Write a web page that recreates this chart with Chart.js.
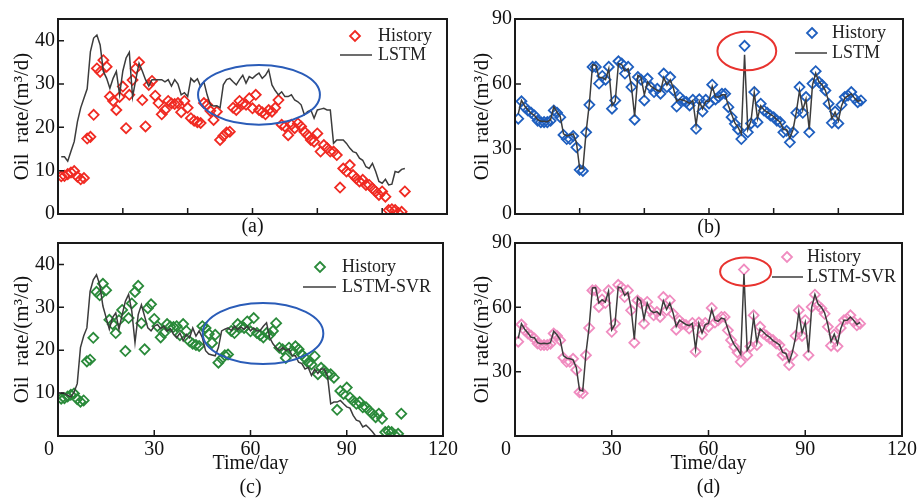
<!DOCTYPE html>
<html>
<head>
<meta charset="utf-8">
<script src="https://cdn.jsdelivr.net/npm/chart.js@4.4.1/dist/chart.umd.min.js"></script>
<style>
html, body { margin: 0; padding: 0; background: #fff; }
body { width: 919px; height: 499px; position: relative; overflow: hidden; }
canvas { position: absolute; }
</style>
</head>
<body>
<canvas id="chartA" width="460" height="240" style="left:0;top:0"></canvas>
<canvas id="chartB" width="459" height="240" style="left:460px;top:0"></canvas>
<canvas id="chartC" width="460" height="271" style="left:0;top:228px"></canvas>
<canvas id="chartD" width="459" height="271" style="left:460px;top:228px"></canvas>
<script>
// history of well 1 (panels a, c), one value per day
const histAC = [8.7, 8.8, 9.2, 9.6, 9.9, 8.6, 8.0, 8.3, 17.4, 17.8,
  22.9, 33.6, 32.8, 35.5, 34.0, 27.1, 26.1, 24.0, 27.0, 29.4,
  19.8, 27.5, 30.9, 33.6, 35.0, 26.3, 20.2, 29.8, 30.7, 27.3,
  25.6, 23.0, 24.0, 26.1, 25.5, 25.4, 25.6, 23.5, 26.1, 24.5,
  22.1, 21.5, 21.2, 21.0, 25.6, 25.2, 23.8, 21.7, 23.6, 17.1,
  18.0, 18.8, 19.0, 24.5, 24.0, 26.1, 25.4, 25.2, 26.7, 24.4,
  27.5, 24.0, 23.5, 23.0, 24.0, 23.6, 24.5, 26.3, 20.6, 20.2,
  18.2, 20.6, 19.8, 20.9, 20.2, 19.0, 18.2, 17.1, 16.7, 18.6,
  14.4, 15.9, 15.2, 14.4, 14.4, 13.6, 6.1, 10.5, 9.8, 11.3,
  9.0, 8.2, 7.5, 7.9, 6.7, 6.7, 5.9, 5.2, 4.4, 5.2,
  4.0, 0.9, 1.1, 0.9, 0.2, 0.5, 5.2];

const lstmA = [13.2, 13.2, 12.2, 14.5, 16.7, 21.3, 24.5, 26.7, 28.9, 37.5,
  40.6, 41.3, 39.0, 32.9, 31.3, 29.0, 31.3, 32.9, 27.5, 33.0,
  36.0, 37.3, 27.0, 31.0, 34.8, 33.0, 31.0, 29.5, 31.0, 31.0,
  31.0, 31.0, 30.5, 31.0, 29.5, 31.0, 30.0, 27.5, 28.0, 27.1,
  31.3, 30.5, 31.2, 29.4, 30.5, 27.5, 25.2, 24.9, 25.0, 24.5,
  29.8, 31.0, 31.3, 30.5, 29.8, 31.0, 32.0, 30.2, 31.7, 31.3,
  32.0, 32.5, 31.3, 32.0, 33.3, 29.8, 28.5, 27.5, 28.2, 27.1,
  27.1, 27.5, 26.3, 25.9, 25.2, 22.9, 23.6, 24.0, 22.1, 24.0,
  24.2, 24.4, 24.0, 24.0, 16.3, 17.1, 17.1, 17.1, 16.3, 15.2,
  14.4, 14.1, 12.9, 12.4, 10.9, 10.5, 11.7, 9.8, 7.5, 7.1,
  8.0, 6.7, 6.9, 9.8, 9.6, 10.3, 10.5];

const svrC = [10.0, 9.9, 9.5, 9.1, 10.2, 12.2, 20.6, 23.3, 25.2, 33.7,
  36.4, 37.6, 35.3, 30.3, 27.6, 24.9, 27.6, 28.7, 24.9, 28.3,
  31.4, 33.0, 29.1, 21.8, 28.3, 30.6, 27.9, 25.2, 24.5, 25.6,
  26.0, 25.0, 25.6, 24.5, 25.0, 23.7, 22.9, 24.0, 22.2, 23.7,
  22.9, 25.2, 23.3, 24.5, 22.9, 19.9, 19.1, 18.9, 18.7, 20.6,
  24.5, 24.9, 25.2, 24.6, 25.6, 24.8, 25.4, 24.9, 25.6, 24.5,
  25.2, 24.5, 24.6, 25.6, 26.4, 22.9, 21.5, 20.6, 19.9, 20.6,
  19.9, 20.3, 18.7, 18.7, 17.2, 16.9, 15.6, 16.0, 14.1, 15.6,
  14.6, 15.6, 15.6, 14.0, 7.5, 7.9, 7.9, 8.3, 7.5, 6.8,
  6.5, 4.8, 3.7, 3.4, 2.1, 2.5, 1.8, 1.0, 0.0];

// history of well 2 (panels b, d)
const histBD = [44.0, 52.0, 49.3, 47.8, 46.7, 45.5, 43.1, 42.4, 42.4, 42.4,
  43.0, 47.8, 46.7, 44.7, 36.5, 34.6, 34.6, 36.0, 30.8, 20.4,
  19.9, 37.7, 50.4, 67.9, 67.9, 60.2, 63.7, 62.0, 67.9, 48.6,
  52.4, 70.5, 69.4, 64.8, 67.9, 58.6, 43.5, 63.2, 62.0, 52.4,
  62.5, 58.6, 56.3, 57.8, 55.5, 64.8, 58.6, 63.2, 57.0, 49.6,
  53.9, 52.4, 51.7, 50.1, 52.7, 39.3, 52.9, 47.3, 52.7, 51.0,
  59.7, 52.9, 54.0, 55.5, 55.5, 49.3, 44.7, 41.6, 39.0, 34.6,
  77.6, 37.7, 41.8, 56.3, 42.4, 50.9, 47.8, 46.7, 45.5, 44.7,
  43.1, 42.4, 37.7, 38.4, 33.1, 37.7, 46.7, 58.6, 46.7, 54.0,
  37.7, 60.2, 65.9, 60.9, 59.5, 57.0, 50.9, 42.1, 47.3, 41.8,
  50.4, 54.0, 54.7, 56.3, 53.3, 51.6, 52.4];

const lstmB = [46.2, 52.5, 49.8, 48.0, 46.5, 45.5, 43.5, 42.8, 42.8, 42.6,
  43.5, 49.5, 47.0, 45.0, 37.0, 36.0, 36.5, 37.0, 33.0, 21.0,
  21.0, 38.0, 51.0, 69.0, 68.5, 63.0, 63.0, 62.0, 67.0, 50.0,
  52.0, 69.5, 69.0, 66.0, 67.0, 59.0, 45.0, 64.0, 63.0, 55.0,
  61.0, 59.0, 58.0, 57.0, 56.5, 63.0, 59.5, 62.0, 58.0, 52.0,
  53.0, 52.5, 52.0, 51.0, 52.5, 41.0, 52.0, 48.5, 52.0, 52.0,
  59.0, 54.0, 54.0, 55.0, 55.0, 50.0, 46.0, 42.0, 40.0, 37.0,
  73.5, 39.0, 43.0, 56.0, 44.0, 50.0, 48.0, 47.0, 46.0, 45.0,
  43.5, 42.5, 39.0, 39.0, 35.0, 39.0, 47.0, 57.0, 48.0, 53.0,
  39.0, 59.5, 65.0, 61.0, 59.5, 57.0, 52.0, 44.0, 47.0, 43.0,
  50.0, 53.5, 54.5, 55.5, 53.5, 52.0, 52.5];

const svrD = [45.5, 52.3, 49.8, 48.0, 46.0, 45.8, 43.5, 43.0, 43.2, 43.0,
  43.5, 48.8, 47.2, 45.0, 37.5, 36.3, 36.0, 35.5, 32.0, 21.5,
  21.0, 38.5, 51.0, 69.0, 69.2, 62.0, 63.5, 62.5, 67.5, 49.5,
  52.0, 69.5, 69.0, 65.5, 67.0, 59.5, 45.0, 64.5, 63.0, 54.5,
  62.0, 58.5, 57.5, 58.0, 56.5, 63.0, 59.0, 62.0, 57.5, 51.0,
  54.0, 53.0, 52.0, 51.5, 52.5, 40.5, 52.5, 48.0, 52.0, 52.5,
  59.0, 54.0, 53.5, 55.0, 54.5, 50.0, 45.5, 42.5, 40.5, 38.0,
  75.5, 40.0, 42.5, 55.5, 43.5, 50.0, 48.5, 47.0, 46.0, 44.5,
  43.5, 42.5, 39.0, 38.5, 34.5, 39.0, 46.0, 58.0, 48.0, 53.0,
  39.0, 60.0, 66.0, 61.5, 60.0, 57.5, 52.0, 44.0, 47.5, 43.0,
  50.0, 54.0, 54.0, 55.5, 54.0, 52.0, 53.0];

// tick values
const xTicksTop = [20, 40, 60, 80, 100];
const xTicksBottom = [30, 60, 90, 120];
const yTicksA = [0, 10, 20, 30, 40];
const yTicksC = [10, 20, 30, 40];
const yTicksB = [0, 30, 60, 90];
const yTicksD = [30, 60, 90];

Chart.defaults.font.family = '"Liberation Serif", "Times New Roman", serif';
Chart.defaults.color = '#111';

function pts(vals) {
  return vals.map((v, i) => ({ x: i + 1, y: v }));
}

function diamond(ctx, x, y, r) {
  ctx.beginPath();
  ctx.moveTo(x, y - r);
  ctx.lineTo(x + r, y);
  ctx.lineTo(x, y + r);
  ctx.lineTo(x - r, y);
  ctx.closePath();
  ctx.stroke();
}

function decoPlugin(cfg) {
  return {
    id: 'deco',
    afterDatasetsDraw(chart) {
      const { ctx, chartArea: a, scales: { x, y } } = chart;
      ctx.save();
      // highlighted region
      const e = cfg.ellipse;
      const cx = x.getPixelForValue(e.cx), cy = y.getPixelForValue(e.cy);
      const rx = x.getPixelForValue(e.cx + e.rx) - cx;
      const ry = cy - y.getPixelForValue(e.cy + e.ry);
      ctx.strokeStyle = e.color;
      ctx.lineWidth = 2;
      ctx.beginPath();
      ctx.ellipse(cx, cy, rx, ry, 0, 0, Math.PI * 2);
      ctx.stroke();

      // frame
      ctx.strokeStyle = '#1a1a1a';
      ctx.lineWidth = 2;
      ctx.strokeRect(a.left, a.top, a.right - a.left, a.bottom - a.top);

      // inward ticks
      ctx.lineWidth = 1.5;
      ctx.beginPath();
      cfg.xTicks.forEach(v => {
        const px = x.getPixelForValue(v);
        ctx.moveTo(px, a.bottom);
        ctx.lineTo(px, a.bottom - 6);
      });
      cfg.yTicks.forEach(v => {
        const py = y.getPixelForValue(v);
        ctx.moveTo(a.left, py);
        ctx.lineTo(a.left + 6, py);
      });
      ctx.stroke();

      // legend
      const L = cfg.legend;
      ctx.font = '18px "Liberation Serif"';
      ctx.fillStyle = '#222';
      ctx.textBaseline = 'middle';
      ctx.textAlign = 'left';
      ctx.strokeStyle = cfg.color;
      ctx.lineWidth = 1.8;
      diamond(ctx, a.right + L.mx, a.top + L.my, 5);
      ctx.fillText('History', a.right + L.tx, a.top + L.my);
      ctx.strokeStyle = '#3c3c3c';
      ctx.lineWidth = 1.5;
      ctx.beginPath();
      ctx.moveTo(a.right + L.l0, a.top + L.ly);
      ctx.lineTo(a.right + L.l1, a.top + L.ly);
      ctx.stroke();
      ctx.fillText(cfg.lineName, a.right + L.tx, a.top + L.ly);

      // shared origin label
      if (cfg.zero) {
        ctx.font = '20px "Liberation Serif"';
        ctx.textAlign = 'center';
        ctx.fillStyle = '#111';
        ctx.fillText('0', a.left - 9, a.bottom + 14);
      }
      ctx.restore();
    }
  };
}

function makePanel(id, p) {
  new Chart(document.getElementById(id), {
    type: 'line',
    data: {
      datasets: [{
        label: p.lineName,
        data: pts(p.line),
        borderColor: '#3c3c3c',
        borderWidth: 1.5,
        pointRadius: 0,
        tension: 0,
        fill: false
      }, {
        label: 'History',
        data: pts(p.hist),
        showLine: false,
        pointStyle: 'rectRot',
        pointRadius: 5,
        pointBorderWidth: 1.8,
        pointBorderColor: p.color,
        pointBackgroundColor: 'rgba(0,0,0,0)'
      }]
    },
    options: {
      responsive: false,
      animation: false,
      layout: { padding: p.padding },
      plugins: { legend: { display: false }, tooltip: { enabled: false } },
      scales: {
        x: {
          type: 'linear', min: 0, max: 120,
          grid: { display: false, drawTicks: false }, border: { display: false },
          afterBuildTicks: s => { s.ticks = p.xTicks.map(v => ({ value: v })); },
          afterFit: s => { s.height = p.xHeight; },
          ticks: { display: p.xLabels, padding: 2, font: { size: 20 }, color: '#111' },
          title: {
            display: true, text: p.xTitle,
            font: { size: 20, lineHeight: 1.2 }, color: '#111',
            padding: { top: 0, bottom: p.xTitlePad }
          }
        },
        y: {
          min: 0, max: p.yMax,
          grid: { display: false, drawTicks: false }, border: { display: false },
          afterBuildTicks: s => { s.ticks = p.yTicks.map(v => ({ value: v })); },
          afterFit: s => { s.width = p.yWidth; },
          ticks: { padding: 3, font: { size: 20 }, color: '#111' },
          title: {
            display: true, text: 'Oil  rate/(m³/d)',
            font: { size: 21, lineHeight: 1.2 }, color: '#111',
            padding: { top: 10, bottom: 0 }
          }
        }
      }
    },
    plugins: [decoPlugin(p)]
  });
}

makePanel('chartA', {
  hist: histAC, line: lstmA, lineName: 'LSTM', color: '#f02a22',
  xTicks: xTicksTop, yTicks: yTicksA, yMax: 45, xLabels: false,
  xTitle: '(a)', xTitlePad: 1.5, xHeight: 26, yWidth: 58,
  padding: { left: 0, right: 13, top: 19, bottom: 0 },
  ellipse: { cx: 62, cy: 27.5, rx: 18.8, ry: 6.9, color: '#2a5cb8' },
  legend: { mx: -92, my: 17, tx: -69, l0: -107, l1: -75, ly: 36 },
  zero: false
});

makePanel('chartB', {
  hist: histBD, line: lstmB, lineName: 'LSTM', color: '#1f5fbf',
  xTicks: xTicksTop, yTicks: yTicksB, yMax: 90, xLabels: false,
  xTitle: '(b)', xTitlePad: 0, xHeight: 26, yWidth: 55,
  padding: { left: 0, right: 16, top: 19, bottom: 0 },
  ellipse: { cx: 71.7, cy: 75.2, rx: 9.1, ry: 8.9, color: '#e8332f' },
  legend: { mx: -91, my: 14, tx: -71, l0: -108, l1: -76, ly: 34 },
  zero: false
});

makePanel('chartC', {
  hist: histAC, line: svrC, lineName: 'LSTM-SVR', color: '#2a8a3a',
  xTicks: xTicksBottom, yTicks: yTicksC, yMax: 45, xLabels: true,
  xTitle: ['Time/day', '(c)'], xTitlePad: -1, xHeight: 63, yWidth: 58,
  padding: { left: 0, right: 13, top: 13, bottom: 0 },
  ellipse: { cx: 63.9, cy: 23.9, rx: 18.8, ry: 7.1, color: '#2a5cb8' },
  legend: { mx: -123, my: 24, tx: -101, l0: -140, l1: -107, ly: 44 },
  zero: true
});

makePanel('chartD', {
  hist: histBD, line: svrD, lineName: 'LSTM-SVR', color: '#f08cc0',
  xTicks: xTicksBottom, yTicks: yTicksD, yMax: 90, xLabels: true,
  xTitle: ['Time/day', '(d)'], xTitlePad: -1, xHeight: 63, yWidth: 55,
  padding: { left: 0, right: 16, top: 13, bottom: 0 },
  ellipse: { cx: 71.5, cy: 76.6, rx: 7.9, ry: 6.6, color: '#e8332f' },
  legend: { mx: -115, my: 14, tx: -95, l0: -130, l1: -99, ly: 34 },
  zero: true
});
</script>
</body>
</html>
